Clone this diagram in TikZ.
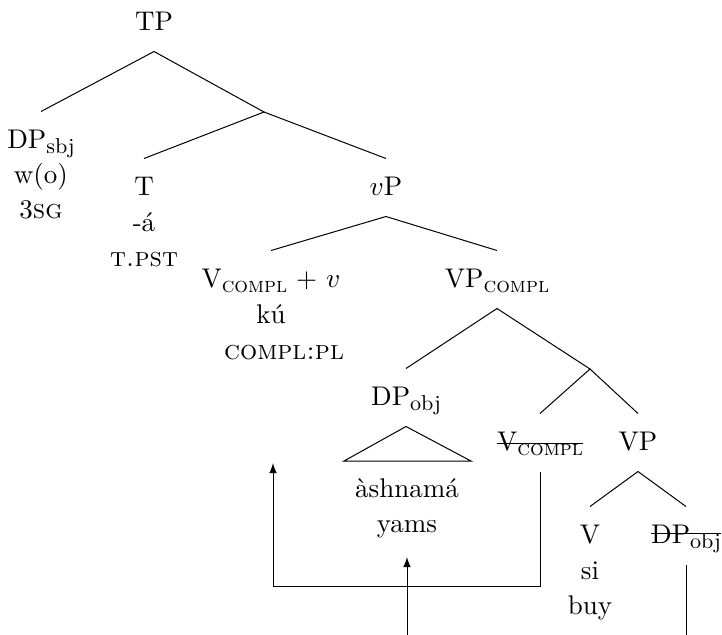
\documentclass[tikz,border=0pt]{standalone}
\newcommand{\sbs}[1]{\raisebox{-2.2pt}{\fontsize{8.6}{10}\selectfont #1}}
\newcommand{\cpl}{\sbs{\textsc{compl}}}

\begin{document}
\begin{tikzpicture}[x=0.4pt,y=-0.4pt,
    every node/.style={font=\fontsize{10.8}{13}\selectfont, inner sep=0pt, anchor=base},
    lbl/.style={text height=14.4pt, text depth=8.4pt},
    mv/.style={-latex}]
    \useasboundingbox (0,0) rectangle (722,635);
    \node[lbl] (TP) at (154,30) {TP};
    \coordinate (Tb) at (264,112);
    \node[lbl] (DPs) at (41,148) {DP\sbs{sbj}};
    \node (DPs1) at (41,183) {w(o)};
    \node (DPs2) at (41,218) {3\textsc{sg}};
    \node[lbl] (T) at (144,195) {T};
    \node (T1) at (144,231) {-á};
    \node (T2) at (144,266) {\textsc{t.pst}};
    \node[lbl] (vP) at (386,195) {$v$P};
    \node[lbl] (Vv) at (271,287) {V\cpl{} + $v$};
    \node (Vv1) at (271,323) {kú};
    \node (Vv2) at (284,359) {\textsc{compl:pl}};
    \node[lbl] (VPc) at (497,287) {VP\cpl};
    \node[lbl] (DPo) at (406,405) {DP\sbs{obj}};
    \coordinate (tl) at (344,461);
    \coordinate (tr) at (471,461);
    \node (DPo1) at (407,497) {àshnamá};
    \node (DPo2) at (407,532) {yams};
    \coordinate (Vb) at (590,369);
    \node[lbl] (Vc) at (540,450) {V\cpl};
    \node[lbl] (VP) at (638,450) {VP};
    \node[lbl] (V) at (590,543) {V};
    \node (V1) at (590,579) {si};
    \node (V2) at (590,614) {buy};
    \node[lbl] (DPt) at (686,543) {DP\sbs{obj}};
    \coordinate (vland) at (273,463);
    \coordinate (bend) at (273,586);
    \coordinate (foot) at (407,635);
    \coordinate (oland) at (407,557);

    \draw (TP.south) -- (DPs.north);
    \draw (TP.south) -- (Tb) -- (T.north);
    \draw (Tb) -- (vP.north);
    \draw (vP.south) -- (Vv.north);
    \draw (vP.south) -- (VPc.north);
    \draw (VPc.south) -- (DPo.north);
    \draw (VPc.south) -- (Vb) -- (Vc.north);
    \draw (Vb) -- (VP.north);
    \draw (VP.south) -- (V.north);
    \draw (VP.south) -- (DPt.north);
    \draw (DPo.south) -- (tl) -- (tr) -- cycle;

    % copies struck out
    \draw ([yshift=2.8pt]Vc.base west) -- ([yshift=2.8pt]Vc.base east);
    \draw ([yshift=4pt]DPt.base west) -- ([yshift=4pt]DPt.base east);

    \draw[mv] (Vc.south) |- (bend) -- (vland);
    \draw[mv] (foot) -- (oland);
    \draw (DPt.south) -- (DPt.south |- foot);
\end{tikzpicture}
\end{document}
